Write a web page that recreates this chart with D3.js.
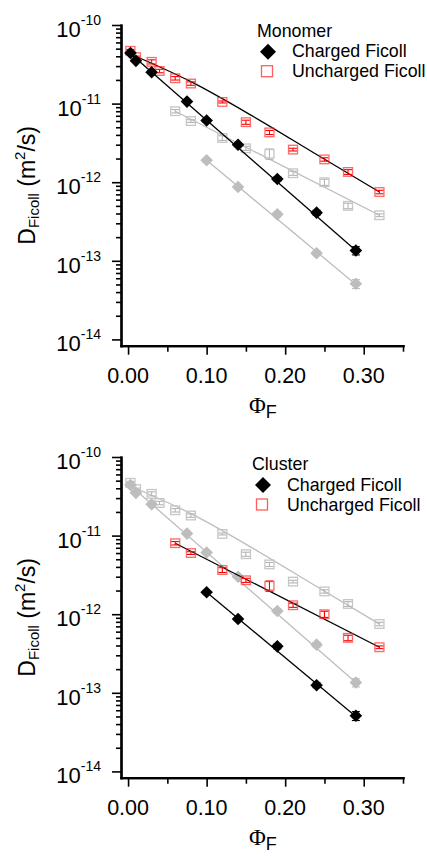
<!DOCTYPE html>
<html>
<head>
<meta charset="utf-8">
<script src="https://cdn.jsdelivr.net/npm/d3@7"></script>
<style>
  body { margin: 0; background: #fff; }
  text { font-family: "Liberation Sans", Arial, sans-serif; fill: #000; }
</style>
</head>
<body>
<div id="chart"></div>
<script>
// values
var phiMonoCharged = [0.003, 0.01, 0.03, 0.075, 0.10, 0.14, 0.19, 0.24, 0.29]
var dMonoCharged = [4.4e-11, 3.5e-11, 2.5e-11, 1.06e-11, 6.1e-12, 3.0e-12, 1.1e-12, 4.1e-13, 1.35e-13]
var errMonoCharged = [0.04, 0.04, 0.04, 0.05, 0.05, 0.05, 0.06, 0.07, 0.12]

var phiMonoUncharged = [0.003, 0.01, 0.03, 0.04, 0.06, 0.08, 0.12, 0.15, 0.18, 0.21, 0.25, 0.28, 0.32]
var dMonoUncharged = [4.7e-11, 3.9e-11, 3.4e-11, 2.6e-11, 2.1e-11, 1.8e-11, 1.05e-11, 5.8e-12, 4.3e-12, 2.6e-12, 1.95e-12, 1.35e-12, 7.5e-13]
var errMonoUncharged = [0.04, 0.03, 0.06, 0.05, 0.05, 0.05, 0.03, 0.06, 0.06, 0.04, 0.05, 0.07, 0.05]

var phiClusterCharged = [0.10, 0.14, 0.19, 0.24, 0.29]
var dClusterCharged = [1.9e-12, 8.7e-13, 3.9e-13, 1.25e-13, 5.1e-14]
var errClusterCharged = [0.05, 0.05, 0.07, 0.07, 0.13]

var phiClusterUncharged = [0.06, 0.08, 0.12, 0.15, 0.18, 0.21, 0.25, 0.28, 0.32]
var dClusterUncharged = [8.0e-12, 6.0e-12, 3.65e-12, 2.7e-12, 2.3e-12, 1.3e-12, 1.0e-12, 5.0e-13, 3.8e-13]
var errClusterUncharged = [0.05, 0.04, 0.07, 0.06, 0.15, 0.06, 0.09, 0.08, 0.04]

// fitted curves
var fitPhiMonoCharged = [0.0, 0.29]
var fitDMonoCharged = [4.6e-11, 1.35e-13]
var fitPhiMonoUncharged = [0.0, 0.08, 0.16, 0.24, 0.32]
var fitDMonoUncharged = [4.4e-11, 1.9e-11, 6.8e-12, 2.25e-12, 7.5e-13]
var fitPhiClusterCharged = [0.10, 0.29]
var fitDClusterCharged = [1.9e-12, 5.0e-14]
var fitPhiClusterUncharged = [0.06, 0.32]
var fitDClusterUncharged = [8.0e-12, 3.8e-13]

var xMajorTicks = [0, 0.1, 0.2, 0.3]
var xMinorTicks = [0.05, 0.15, 0.25, 0.35]
var xTickLabels = ["0.00", "0.10", "0.20", "0.30"]
var yDecades = [-10, -11, -12, -13, -14]
var legendItems = ["Charged Ficoll", "Uncharged Ficoll"]

var svg = d3.select("#chart").append("svg")
            .attr("width", 427)
            .attr("height", 856)

var x = d3.scaleLinear().domain([-0.009, 0.35]).range([121, 403])

function toSeries(xs, ys, es) {
    return xs.map((v, i) => ({x: v, y: ys[i], e: es ? es[i] : 0}))
}
var monoCharged = toSeries(phiMonoCharged, dMonoCharged, errMonoCharged)
var monoUncharged = toSeries(phiMonoUncharged, dMonoUncharged, errMonoUncharged)
var clusterCharged = toSeries(phiClusterCharged, dClusterCharged, errClusterCharged)
var clusterUncharged = toSeries(phiClusterUncharged, dClusterUncharged, errClusterUncharged)
monoCharged.fit = toSeries(fitPhiMonoCharged, fitDMonoCharged)
monoUncharged.fit = toSeries(fitPhiMonoUncharged, fitDMonoUncharged)
clusterCharged.fit = toSeries(fitPhiClusterCharged, fitDClusterCharged)
clusterUncharged.fit = toSeries(fitPhiClusterUncharged, fitDClusterUncharged)

var GREY = "#bdbdbd"

function diamond(r) {
    return `M0,${-r}L${r},0L0,${r}L${-r},0Z`
}

function drawPanel(top, charged, uncharged, greyCharged, greyUncharged, title, leg) {
    var bottom = top + 320.7
    var y = d3.scaleLog().domain([1e-10, Math.pow(10, -14.08)]).range([top, bottom])
    var g = svg.append("g")

    // axes
    var minorY = []
    yDecades.slice(0, 4).forEach(p => { for (var k = 2; k <= 9; k++) minorY.push(k * Math.pow(10, p - 1)) })
    var majorY = yDecades.map(p => Math.pow(10, p))

    var yMinorAx = g.append("g").attr("transform", "translate(121,0)")
        .call(d3.axisLeft(y).tickValues(minorY).tickSize(5).tickSizeOuter(0).tickFormat(""))
    var yMajorAx = g.append("g").attr("transform", "translate(121,0)")
        .call(d3.axisLeft(y).tickValues(majorY).tickSize(9).tickSizeOuter(0).tickFormat(""))
    var xMinorAx = g.append("g").attr("transform", `translate(0,${bottom})`)
        .call(d3.axisBottom(x).tickValues(xMinorTicks).tickSize(6).tickSizeOuter(0).tickFormat(""))
    var xMajorAx = g.append("g").attr("transform", `translate(0,${bottom})`)
        .call(d3.axisBottom(x).tickValues(xMajorTicks).tickSize(9).tickSizeOuter(0).tickFormat(""))
    ;[yMinorAx, yMajorAx, xMinorAx, xMajorAx].forEach(a => {
        a.selectAll(".tick line").attr("stroke", "#000").attr("stroke-width", 1.6)
        a.select(".domain").attr("stroke", "#000").attr("stroke-width", 2.2).attr("stroke-linecap", "square")
    })

    // tick labels
    yDecades.forEach(p => {
        var t = g.append("text").attr("x", 101).attr("y", y(Math.pow(10, p)) + 12)
                 .attr("text-anchor", "end").style("font-size", "22px")
        t.append("tspan").text("10")
        t.append("tspan").attr("dy", -12).style("font-size", "14px").text(String(p))
    })
    xMajorTicks.forEach((v, i) => {
        g.append("text").attr("x", x(v)).attr("y", bottom + 37)
         .attr("text-anchor", "middle").style("font-size", "21.5px").text(xTickLabels[i])
    })

    // axis titles
    var yt = g.append("text").attr("transform", `translate(35,${(top + bottom) / 2}) rotate(-90)`)
              .attr("text-anchor", "middle").style("font-size", "23px")
    yt.append("tspan").text("D")
    yt.append("tspan").attr("dy", 4).style("font-size", "15px").text("Ficoll")
    yt.append("tspan").attr("dy", -4).text(" (m")
    yt.append("tspan").attr("dy", -10).style("font-size", "15px").text("2")
    yt.append("tspan").attr("dy", 10).text("/s)")

    var xt = g.append("text").attr("x", 249).attr("y", bottom + 67)
    xt.append("tspan").style("font-family", "'Liberation Serif', 'Times New Roman', serif")
      .style("font-size", "23px").text("Φ")
    xt.append("tspan").attr("dy", 5).style("font-size", "18px").text("F")

    var line = d3.line().x(d => x(d.x)).y(d => y(d.y)).curve(d3.curveMonotoneX)

    function drawSeries(data, kind, color, lineColor, errColor) {
        g.append("path").datum(data.fit).attr("d", line)
         .attr("fill", "none").attr("stroke", lineColor).attr("stroke-width", 1.3)
        var eb = g.append("g")
        data.forEach(d => {
            var y1 = y(d.y * (1 - d.e)), y2 = y(d.y * (1 + d.e)), cx = x(d.x)
            eb.append("line").attr("x1", cx).attr("x2", cx).attr("y1", y1).attr("y2", y2)
              .attr("stroke", errColor).attr("stroke-width", 1.1)
            ;[y1, y2].forEach(yy => eb.append("line").attr("x1", cx - 4).attr("x2", cx + 4)
              .attr("y1", yy).attr("y2", yy).attr("stroke", errColor).attr("stroke-width", 1.1))
        })
        if (kind == "diamond") {
            g.append("g").selectAll("path").data(data).enter().append("path")
             .attr("d", diamond(6.3))
             .attr("transform", d => `translate(${x(d.x)},${y(d.y)})`)
             .attr("fill", color)
        } else {
            g.append("g").selectAll("rect").data(data).enter().append("rect")
             .attr("x", d => x(d.x) - 4.5).attr("y", d => y(d.y) - 4.3)
             .attr("width", 9).attr("height", 8.6)
             .attr("fill", "none").attr("stroke", color).attr("stroke-width", 1.3)
        }
    }

    drawSeries(greyUncharged, "square", "#c6c6c6", GREY, "#b5b5b5")
    drawSeries(greyCharged, "diamond", GREY, GREY, GREY)
    drawSeries(uncharged, "square", "rgba(255,40,40,0.7)", "#000", "#ff0000")
    drawSeries(charged, "diamond", "#000", "#000", "#000")

    // legend
    g.append("text").attr("x", leg.x).attr("y", leg.y).style("font-size", "17.8px").text(title)
    g.append("path").attr("d", diamond(8))
     .attr("transform", `translate(${leg.x + 11},${leg.y + 15})`).attr("fill", "#000")
    g.append("rect").attr("x", leg.x + 4.5).attr("y", leg.y + 29).attr("width", 11).attr("height", 11)
     .attr("fill", "none").attr("stroke", "rgba(255,40,40,0.75)").attr("stroke-width", 1.3)
    legendItems.forEach((s, i) => {
        g.append("text").attr("x", leg.x + 35).attr("y", leg.y + 20.6 + i * 20)
         .style("font-size", "17.8px").text(s)
    })
}

drawPanel(25, monoCharged, monoUncharged, clusterCharged, clusterUncharged, "Monomer", {x: 257, y: 36.7})
drawPanel(457, clusterCharged, clusterUncharged, monoCharged, monoUncharged, "Cluster", {x: 252, y: 470})
</script>
</body>
</html>
